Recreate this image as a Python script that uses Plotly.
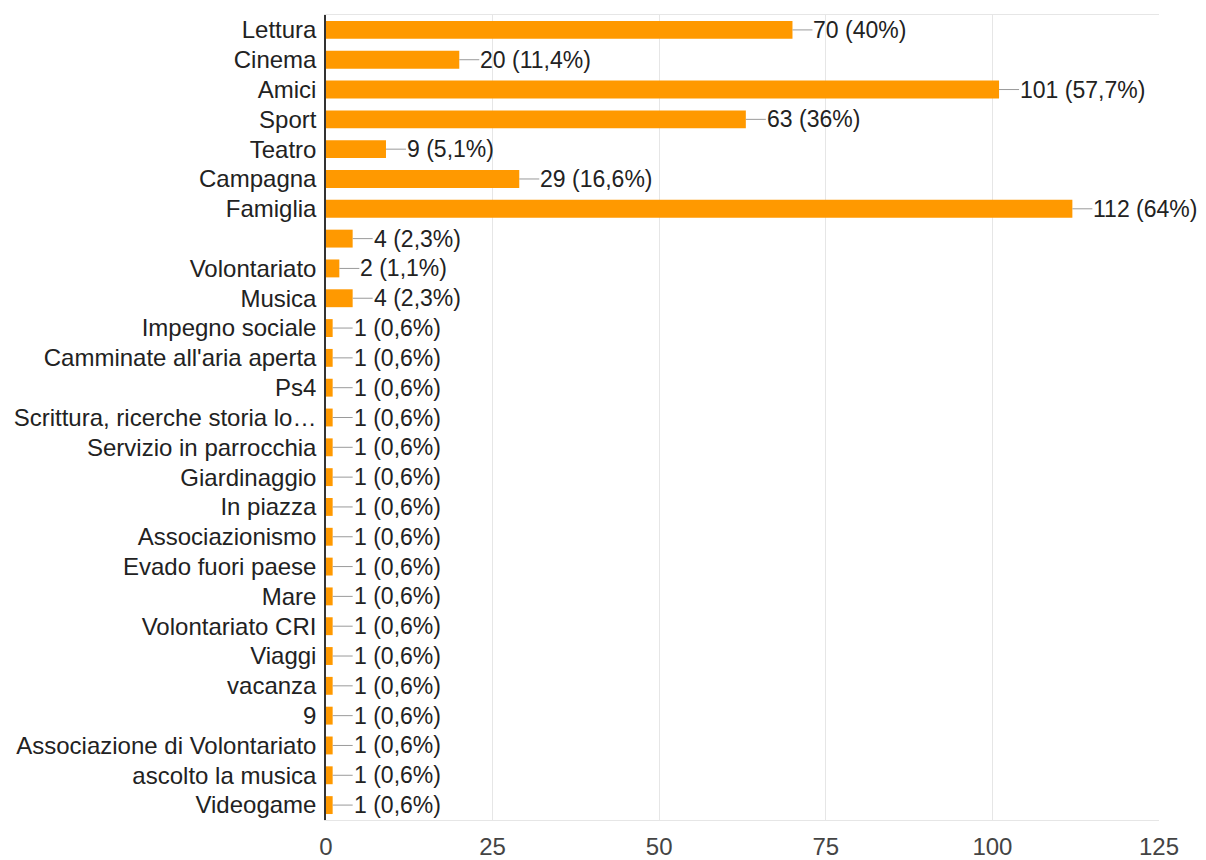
import plotly.graph_objects as go

categories = [
    "Lettura", "Cinema", "Amici", "Sport", "Teatro", "Campagna", "Famiglia", "",
    "Volontariato", "Musica", "Impegno sociale", "Camminate all'aria aperta", "Ps4",
    "Scrittura, ricerche storia lo…", "Servizio in parrocchia", "Giardinaggio",
    "In piazza", "Associazionismo", "Evado fuori paese", "Mare", "Volontariato CRI",
    "Viaggi", "vacanza", "9", "Associazione di Volontariato", "ascolto la musica",
    "Videogame",
]
values = [70, 20, 101, 63, 9, 29, 112, 4, 2, 4, 1, 1, 1, 1, 1, 1, 1, 1, 1, 1, 1, 1, 1, 1, 1, 1, 1]
total_respondents = 175
x_ticks = [0, 25, 50, 75, 100, 125]


def fmt_pct(v):
    p = round(v / total_respondents * 100, 1)
    s = f"{p:.1f}"
    if s.endswith(".0"):
        s = s[:-2]
    return s.replace(".", ",") + "%"


labels = [f"{v} ({fmt_pct(v)})" for v in values]
idx = list(range(len(categories)))

FONT = "Liberation Sans, Arial, sans-serif"
TXT = "#222222"
FS = 24

fig = go.Figure()
fig.add_trace(go.Bar(
    x=values, y=idx, orientation="h",
    marker=dict(color="#FF9900", line=dict(width=0)),
    width=0.6, hoverinfo="skip",
))

for v, i, lab in zip(values, idx, labels):
    fig.add_annotation(
        x=v, y=i, text=lab, showarrow=True, arrowhead=0, arrowwidth=1,
        arrowcolor="#9a9a9a", ax=20, ay=0, xanchor="left",
        font=dict(family=FONT, size=23, color=TXT),
        borderpad=0,
    )

fig.update_layout(
    width=1206, height=860,
    margin=dict(l=316, r=55, t=6, b=48),
    paper_bgcolor="white", plot_bgcolor="white",
    showlegend=False,
    font=dict(family=FONT, size=FS, color=TXT),
    xaxis=dict(
        range=[0, 125], tickvals=x_ticks, ticktext=[str(t) for t in x_ticks],
        showgrid=True, gridcolor="#e6e6e6", gridwidth=1,
        zeroline=False, showline=True, linecolor="#e6e6e6", mirror=True,
        ticks="outside", ticklen=5, tickcolor="rgba(0,0,0,0)",
        tickfont=dict(family=FONT, size=FS, color="#444444"),
        fixedrange=True,
    ),
    yaxis=dict(
        tickvals=idx, ticktext=categories, range=[len(categories) - 0.5, -0.5],
        showgrid=False, zeroline=False, showline=True, linecolor="#333333",
        linewidth=1.5, ticks="outside", ticklen=3, tickcolor="rgba(0,0,0,0)",
        tickfont=dict(family=FONT, size=FS, color=TXT), fixedrange=True,
    ),
)

fig.write_html("out.html")
